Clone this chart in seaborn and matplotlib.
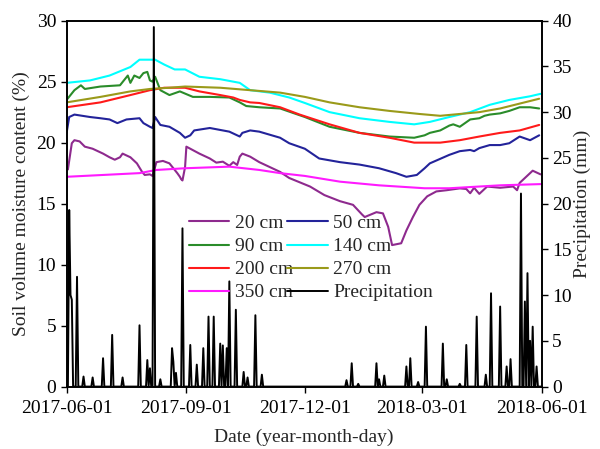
import numpy as np
import pandas as pd
import matplotlib
matplotlib.use("Agg")
import matplotlib.pyplot as plt
import matplotlib.dates as mdates
import seaborn as sns

# ---------------- data (days since 2017-06-01) ----------------
start = pd.Timestamp("2017-06-01")

d20 = [0, 1, 4, 6, 10, 14, 20, 28, 33, 37, 41, 43, 49, 54, 58, 60, 64, 66, 69, 74, 79, 85, 87, 88, 89, 91, 92, 95, 102, 110, 115, 120, 125, 128, 131, 133, 135, 141, 148, 156, 164, 171, 179, 187, 198, 210, 220, 227, 229, 238, 243, 247, 250, 257, 261, 266, 271, 277, 284, 292, 302, 307, 310, 313, 317, 323, 333, 343, 346, 348, 353, 358, 364]
v20 = [18.0, 17.8, 19.95, 20.2, 20.1, 19.67, 19.5, 19.1, 18.8, 18.6, 18.8, 19.1, 18.8, 18.3, 17.6, 17.35, 17.4, 17.27, 18.4, 18.5, 18.3, 17.5, 17.2, 17.0, 16.9, 18.0, 19.67, 19.5, 19.1, 18.7, 18.36, 18.44, 18.1, 18.4, 18.17, 18.85, 19.1, 18.85, 18.4, 18.0, 17.6, 17.1, 16.75, 16.4, 15.7, 15.2, 14.9, 14.1, 13.9, 14.3, 14.2, 13.1, 11.6, 11.75, 12.8, 13.9, 14.9, 15.6, 16.0, 16.1, 16.25, 16.2, 15.85, 16.3, 15.8, 16.4, 16.3, 16.4, 16.1, 16.7, 17.2, 17.7, 17.4]

d50 = [0, 2, 6, 18, 26, 33, 39, 46, 56, 59, 64, 66, 68, 72, 79, 87, 91, 95, 98, 110, 125, 133, 135, 141, 148, 164, 171, 183, 194, 210, 225, 240, 253, 261, 269, 275, 279, 294, 302, 310, 313, 317, 325, 333, 340, 348, 356, 363]
v50 = [20.8, 22.1, 22.3, 22.1, 22.0, 21.9, 21.6, 21.9, 22.0, 21.6, 21.3, 21.2, 22.1, 21.45, 21.3, 20.8, 20.4, 20.6, 21.0, 21.2, 20.9, 20.5, 20.8, 21.0, 20.9, 20.4, 19.95, 19.5, 18.7, 18.4, 18.2, 17.9, 17.5, 17.2, 17.35, 17.9, 18.3, 19.0, 19.3, 19.4, 19.3, 19.55, 19.8, 19.8, 19.95, 20.5, 20.2, 20.6]

d90 = [0, 6, 11, 14, 26, 41, 47, 49, 52, 56, 59, 62, 64, 66, 68, 72, 79, 87, 97, 110, 125, 133, 138, 148, 164, 183, 202, 225, 248, 267, 275, 279, 287, 294, 297, 302, 310, 317, 321, 325, 333, 340, 348, 356, 363]
v90 = [23.5, 24.3, 24.7, 24.4, 24.6, 24.7, 25.5, 24.9, 25.5, 25.3, 25.7, 25.8, 25.1, 25.0, 25.4, 24.3, 23.9, 24.2, 23.75, 23.75, 23.7, 23.3, 23.0, 22.9, 22.8, 22.1, 21.3, 20.8, 20.5, 20.4, 20.6, 20.8, 21.0, 21.4, 21.5, 21.3, 21.9, 22.0, 22.2, 22.3, 22.4, 22.6, 22.9, 22.9, 22.8]

d140 = [0, 18, 33, 49, 56, 64, 68, 75, 83, 91, 102, 118, 133, 141, 156, 171, 183, 202, 225, 248, 267, 279, 294, 310, 325, 340, 356, 364]
v140 = [24.9, 25.1, 25.5, 26.2, 26.8, 26.8, 26.8, 26.4, 26.0, 26.0, 25.4, 25.2, 24.9, 24.3, 24.1, 23.7, 23.25, 22.5, 22.0, 21.7, 21.5, 21.7, 22.1, 22.5, 23.1, 23.5, 23.8, 24.0]

d200 = [0, 26, 49, 64, 75, 91, 102, 118, 128, 133, 141, 148, 164, 179, 202, 225, 248, 267, 287, 302, 317, 333, 348, 363]
v200 = [22.9, 23.3, 23.9, 24.3, 24.5, 24.5, 24.2, 23.9, 23.7, 23.5, 23.3, 23.25, 22.9, 22.3, 21.5, 20.8, 20.4, 20.0, 20.0, 20.2, 20.5, 20.8, 21.0, 21.45]

d270 = [0, 26, 49, 64, 79, 91, 118, 141, 164, 183, 202, 225, 248, 271, 287, 302, 317, 333, 348, 363]
v270 = [23.3, 23.75, 24.2, 24.4, 24.5, 24.6, 24.5, 24.3, 24.1, 23.75, 23.3, 22.9, 22.6, 22.35, 22.2, 22.35, 22.5, 22.8, 23.2, 23.6]

d350 = [0, 56, 69, 91, 125, 148, 164, 183, 210, 240, 275, 294, 333, 364]
v350 = [17.2, 17.5, 17.76, 17.9, 18.03, 17.76, 17.5, 17.27, 16.8, 16.5, 16.26, 16.26, 16.5, 16.6]

rain_day = [2, 3, 4, 8, 13, 20, 28, 35, 43, 56, 62, 64, 67, 72, 81, 82, 84, 89, 95, 100, 105, 109, 113, 118, 120, 123, 125, 130, 136, 139, 145, 150,
            215, 219, 224, 238, 240, 244, 261, 264, 270, 276, 289, 292, 302, 307, 315, 322, 326, 333, 338, 341, 349, 352, 354, 356, 358, 361]
rain_mm = [19.3, 10.0, 9.5, 12.0, 1.1, 1.0, 3.1, 5.65, 1.0, 6.7, 2.9, 2.0, 39.3, 0.8, 4.2, 2.7, 1.5, 17.3, 4.55, 2.4, 4.2, 7.65, 7.65, 4.7, 4.5, 4.2, 11.5, 8.4, 1.6, 1.0, 7.8, 1.3,
           0.7, 2.55, 0.3, 2.55, 0.8, 1.2, 2.2, 3.1, 0.5, 6.55, 4.7, 0.8, 0.3, 4.55, 7.65, 1.3, 10.2, 8.75, 2.2, 3.0, 21.1, 9.3, 12.4, 5.0, 6.55, 2.2]

series = [("20 cm", d20, v20, "#8E2A8E"),
          ("50 cm", d50, v50, "#23239A"),
          ("90 cm", d90, v90, "#2A8C2A"),
          ("140 cm", d140, v140, "#00FFFF"),
          ("200 cm", d200, v200, "#FF1A1A"),
          ("270 cm", d270, v270, "#9A9A1A"),
          ("350 cm", d350, v350, "#FF1AFF")]

# ---------------- figure ----------------
sns.set_style("ticks")
plt.rcParams["font.family"] = ["Liberation Serif", "DejaVu Serif"]

fig = plt.figure(figsize=(6.0, 4.49), dpi=100)
ax = fig.add_axes([0.111, 0.139, 0.792, 0.815])
ax2 = ax.twinx()

handles = {}
for name, d, v, c in series:
    df = pd.DataFrame({"date": start + pd.to_timedelta(d, unit="D"), "val": v})
    sns.lineplot(data=df, x="date", y="val", ax=ax, color=c, lw=1.5, label=name, legend=False)
    handles[name] = ax.lines[-1]

days = np.arange(0, 366)
precip = np.zeros(len(days))
precip[rain_day] = rain_mm
dfp = pd.DataFrame({"date": start + pd.to_timedelta(days, unit="D"), "mm": precip})
sns.lineplot(data=dfp, x="date", y="mm", ax=ax2, color="black", lw=1.4, legend=False)
handles["Precipitation"] = ax2.lines[-1]

ax.set_xlim(start, pd.Timestamp("2018-06-01"))
ax.set_ylim(0, 30)
ax2.set_ylim(0, 40)
ax.set_yticks(np.arange(0, 31, 5))
ax2.set_yticks(np.arange(0, 41, 5))
ax.set_xticks([pd.Timestamp(s) for s in ["2017-06-01", "2017-09-01", "2017-12-01", "2018-03-01", "2018-06-01"]])
ax.xaxis.set_major_formatter(mdates.DateFormatter("%Y-%m-%d"))

fs = 14
ax.set_xlabel("Date (year-month-day)", fontsize=fs, labelpad=8)
ax.set_ylabel("Soil volume moisture content (%)", fontsize=fs, labelpad=5)
ax2.set_ylabel("Precipitation (mm)", fontsize=fs, labelpad=1)
ax.tick_params(axis="x", labelsize=fs, direction="out", length=4, width=1, colors="black", pad=6)
ax.tick_params(axis="y", labelsize=fs, direction="out", length=4, width=1, colors="black")
ax2.tick_params(axis="y", labelsize=fs, direction="out", length=4, width=1, colors="black")
for a in (ax, ax2):
    for sp in a.spines.values():
        sp.set_visible(True)
        sp.set_color("black")
        sp.set_linewidth(1.2)

order = ["20 cm", "90 cm", "200 cm", "350 cm", "50 cm", "140 cm", "270 cm", "Precipitation"]
leg = ax2.legend([handles[k] for k in order], order, ncol=2, frameon=False, fontsize=fs,
                 loc="upper left", bbox_to_anchor=(0.228, 0.507), handlelength=2.1,
                 handletextpad=0.3, columnspacing=-0.35, labelspacing=0.28, borderpad=0.2)

fig.savefig("out.png", dpi=100)
